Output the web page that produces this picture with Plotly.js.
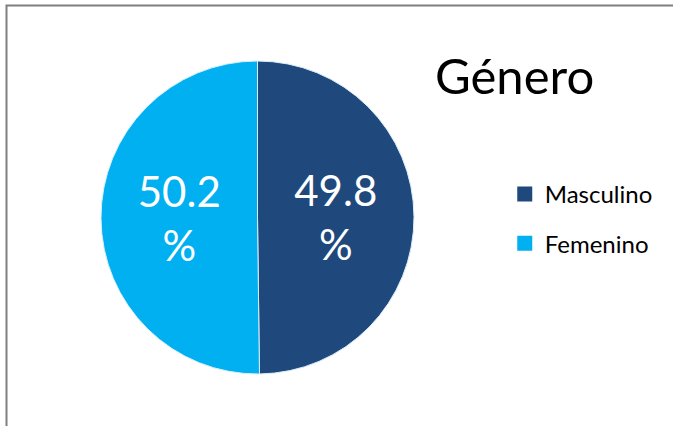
<!DOCTYPE html>
<html>
<head>
<meta charset="utf-8">
<script src="https://cdn.plot.ly/plotly-3.0.1.min.js"></script>
<style>html,body{margin:0;padding:0;background:#fff;}#chart{width:673px;height:426px;}</style>
</head>
<body>
<div id="chart"></div>
<script>
const chartTitle = 'Género';
const categories = ['Masculino', 'Femenino'];
const values = [49.8, 50.2];
const colors = ['#1F497D', '#00B0F0'];

const FONT = 'Lato, Carlito, Calibri, "Liberation Sans", sans-serif';

const pie = {
  type: 'pie',
  labels: categories,
  values: values,
  sort: false,
  direction: 'clockwise',
  rotation: 0,
  marker: {colors: colors, line: {color: '#d9eefa', width: 1}},
  texttemplate: '%{value:.1f}<br>%',
  textposition: 'inside',
  insidetextorientation: 'horizontal',
  insidetextfont: {family: FONT, size: 42, color: '#ffffff'},
  hoverinfo: 'label+value',
  showlegend: false,
  domain: {x: [101/673, 414/673], y: [(426-374)/426, (426-61)/426]}
};

const legendTraces = categories.map((c, i) => ({
  type: 'scatter',
  mode: 'markers',
  x: [null], y: [null],
  name: c,
  legendgroup: 'g' + i,
  marker: {symbol: 'square', size: 15, color: colors[i]},
  hoverinfo: 'skip'
}));

const layout = {
  width: 673, height: 426,
  margin: {l: 0, r: 0, t: 0, b: 0},
  paper_bgcolor: '#ffffff',
  plot_bgcolor: 'rgba(0,0,0,0)',
  title: {
    text: chartTitle,
    font: {family: FONT, size: 49, color: '#000000'},
    x: 435/673, xanchor: 'left',
    y: 1 - 77/426, yanchor: 'middle'
  },
  xaxis: {visible: false, showgrid: false, zeroline: false},
  yaxis: {visible: false, showgrid: false, zeroline: false},
  showlegend: true,
  legend: {
    x: 0.75, xanchor: 'left',
    y: 1 - 172/426, yanchor: 'top',
    traceorder: 'grouped',
    tracegroupgap: 15,
    font: {family: FONT, size: 24, color: '#000000'},
    bgcolor: 'rgba(0,0,0,0)'
  },
  shapes: [{
    type: 'rect', xref: 'paper', yref: 'paper',
    x0: 6.5/673, x1: 1.2, y0: -0.2, y1: 1 - 5.5/426,
    line: {color: '#7f7f7f', width: 2}
  }]
};

Plotly.newPlot('chart', [pie].concat(legendTraces), layout, {displayModeBar: false, staticPlot: true});
</script>
</body>
</html>
